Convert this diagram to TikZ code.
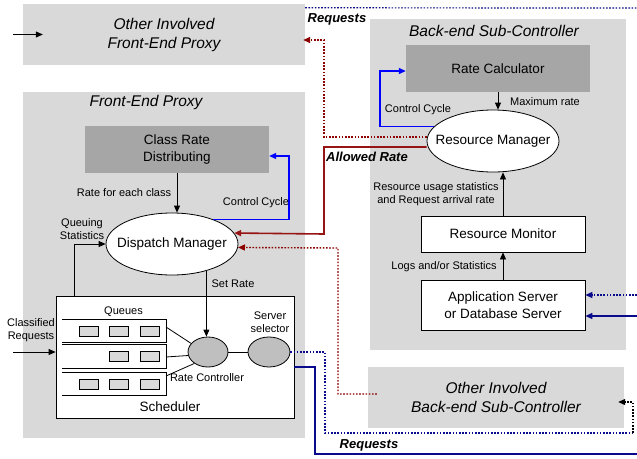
\documentclass[tikz,border=0pt]{standalone}
\usepackage{fontspec}
\setmainfont{Liberation Sans}
\usetikzlibrary{shapes.geometric,arrows.meta,calc}
\definecolor{lg}{RGB}{217,217,217}
\definecolor{dg}{RGB}{166,166,166}
\definecolor{qg}{RGB}{191,191,191}
\definecolor{dred}{RGB}{150,20,20}
\definecolor{dreddot}{RGB}{140,0,0}
\definecolor{navyb}{RGB}{10,10,140}
\definecolor{cblue}{RGB}{0,0,255}
\begin{document}
\begin{tikzpicture}[x=1pt,y=-1pt,
  fsmall/.style={font=\fontsize{11}{13.5}\selectfont},
  fnorm/.style={font=\fontsize{13.5}{16.5}\selectfont},
  ftitle/.style={font=\fontsize{15.5}{19}\selectfont\itshape},
  fbold/.style={font=\fontsize{13}{15}\selectfont\bfseries\itshape},
  region/.style={fill=lg,draw=none,inner sep=0pt,align=center,ftitle},
  darkbox/.style={fill=dg,draw=none,inner sep=0pt,align=center,fnorm},
  whitebox/.style={fill=white,draw=black,line width=0.8pt,inner sep=0pt,align=center,fnorm},
  ell/.style={ellipse,draw=black,line width=0.8pt,fill=white,inner sep=0pt},
  gell/.style={ellipse,draw=black,line width=0.8pt,fill=qg,inner sep=0pt},
  qbox/.style={draw=black,line width=0.8pt,fill=lg,minimum width=19pt,minimum height=10pt,inner sep=0pt},
  lbl/.style={inner sep=0pt,align=center,fsmall},
  arr/.style={-{Triangle[length=7pt,width=6pt]}},
  conn/.style={line width=0.8pt,draw=black},
  cyc/.style={line width=1.2pt,draw=cblue},
  navydot/.style={line width=1.2pt,draw=navyb,dash pattern=on 1.6pt off 1.6pt},
  navysolid/.style={line width=1.4pt,draw=navyb},
  reddot/.style={line width=1.4pt,draw=dreddot,dash pattern=on 1.6pt off 1.6pt},
  redsolid/.style={line width=1.6pt,draw=dred},
  blackdot/.style={line width=1.1pt,draw=black,dash pattern=on 1.6pt off 1.6pt}
]
\useasboundingbox[fill=white] (0,0) rectangle (637,458);

% regions
\node[region,minimum width=282pt,minimum height=61pt] (ofep) at (164,34.5) {Other Involved\\Front-End Proxy};
\node[region,minimum width=282pt,minimum height=346pt] (fep) at (164,265) {};
\node[inner sep=0pt,ftitle] (feptitle) at (146,102) {Front-End Proxy};
\node[region,minimum width=256pt,minimum height=331pt] (bsc) at (498,184.5) {};
\node[inner sep=0pt,ftitle] (bsctitle) at (494,31) {Back-end Sub-Controller};
\node[region,minimum width=256pt,minimum height=61pt] (obsc) at (496,397.5) {Other Involved\\Back-end Sub-Controller};

% front-end proxy content
\node[darkbox,minimum width=184pt,minimum height=47pt] (crd) at (177,149.5) {Class Rate\\Distributing};
\node[ell,minimum width=132pt,minimum height=62pt,label={[fnorm,inner sep=0pt]center:Dispatch Manager}] (dm) at (172,244) {};
\node[whitebox,minimum width=238pt,minimum height=122pt] (sched) at (175,357) {};
\node[inner sep=0pt,fnorm] (schedlbl) at (170,407) {Scheduler};

% queues
\foreach \t in {319,344.5,372}{
  \draw[conn] (62,\t) -- (166,\t) -- (166,\t+23.5) -- (62,\t+23.5);
}
\node[qbox] (q11) at (88.5,331) {};
\node[qbox] (q12) at (119,331) {};
\node[qbox] (q13) at (149.5,331) {};
\node[qbox] (q22) at (119,356.5) {};
\node[qbox] (q23) at (149.5,356.5) {};
\node[qbox] (q31) at (88.5,384) {};
\node[qbox] (q32) at (119,384) {};
\node[qbox] (q33) at (149.5,384) {};
\node[lbl] (queues) at (123.5,312) {Queues};

\node[gell,minimum width=40pt,minimum height=30pt] (rc) at (208,352) {};
\node[gell,minimum width=42pt,minimum height=30pt] (ss) at (269,352) {};
\node[lbl] (rclbl) at (207,378) {Rate Controller};
\node[lbl] (sslbl) at (270,322) {Server\\selector};

% back-end content
\node[darkbox,minimum width=184pt,minimum height=47pt] (rcalc) at (498,68.5) {Rate Calculator};
\node[ell,minimum width=132pt,minimum height=62pt,label={[fnorm,inner sep=0pt]center:Resource Manager}] (rm) at (493,141) {};
\node[whitebox,minimum width=164pt,minimum height=36pt] (rmon) at (503,234) {Resource Monitor};
\node[whitebox,minimum width=164pt,minimum height=50pt] (app) at (503,305) {Application Server\\or Database Server};

% labels
\node[lbl] (l1) at (124,193) {Rate for each class};
\node[lbl] (l2) at (256,203) {Control Cycle};
\node[lbl] (l3) at (82,229) {Queuing\\Statistics};
\node[lbl] (l4) at (233,284) {Set Rate};
\node[lbl] (l5) at (31,330) {Classified\\Requests};
\node[lbl] (l6) at (418,110) {Control Cycle};
\node[lbl] (l7) at (545,102) {Maximum rate};
\node[lbl] (l8) at (436,194) {Resource usage statistics\\and Request arrival rate};
\node[lbl] (l9) at (444,267) {Logs and/or Statistics};
\node[inner sep=0pt,fbold] (req1) at (337,19) {Requests};
\node[inner sep=0pt,fbold] (req2) at (369,445) {Requests};
\node[inner sep=0pt,fbold] (allow) at (367,157) {Allowed Rate};

% free ends
\coordinate (in1) at (13,34.5);
\coordinate (in2) at (13,352);
\coordinate (e1) at (637,8);
\coordinate (e2) at (637,295);
\coordinate (e3) at (637,316);
\coordinate (e4) at (637,454);
\coordinate (c1) at (633,433);

% black connectors
\draw[conn,arr] (in1) -- ([xshift=20pt]ofep.west);
\draw[conn,arr] (in2) -- (in2 -| sched.west);
\draw[conn,arr] (crd.south) -- (crd.south |- dm.north);
\draw[conn,arr] ([xshift=19pt]sched.north west) |- (dm.west);
\draw[conn,arr] (dm.-38) -- (dm.-38 |- rc.north);
\draw[conn] (rc.east) -- (ss.west);
\draw[conn] (166,327) -- (rc.153);
\draw[conn] (166,357) -- (rc.190);
\draw[conn] (166,376) -- (rc.220);
\draw[conn,arr] (app.north) -- (rmon.south);
\draw[conn,arr] (rmon.north) -- (rmon.north |- rm.south);
\draw[conn,arr] (rcalc.south) -- (rcalc.south |- rm.north);

% control cycles
\draw[cyc,arr] (dm.31) -| (289,156) -- ([yshift=-6.5pt]crd.east);
\draw[cyc,arr] (rm.166) -| (380,71) -- ([yshift=-2.5pt]rcalc.west);

% red connectors
\draw[reddot,arr] ([yshift=4pt]rm.west) -| (324,40) -- ([xshift=-2pt,yshift=-5.5pt]ofep.east);
\draw[redsolid,arr] ([yshift=-6pt]rm.west) -| (324,234) -- (dm.10);
\draw[reddot,arr] ([xshift=9pt,yshift=3.5pt]obsc.west) -| (338,248) -- (dm.-3);

% request connectors
\draw[navydot] ([yshift=-4pt]ofep.north east) -- (e1);
\draw[navydot,arr] (e2) -- (e2 -| app.east);
\draw[navysolid,arr] (e3) -- (e3 -| app.east);
\draw[navydot] (ss.east) -| (325,433) -- (c1);
\draw[blackdot,arr] (c1) |- ([xshift=-6pt,yshift=-4.5pt]obsc.east);
\draw[navysolid] ([yshift=-10pt]sched.east) -| (315,454) -- (e4);
\end{tikzpicture}
\end{document}
